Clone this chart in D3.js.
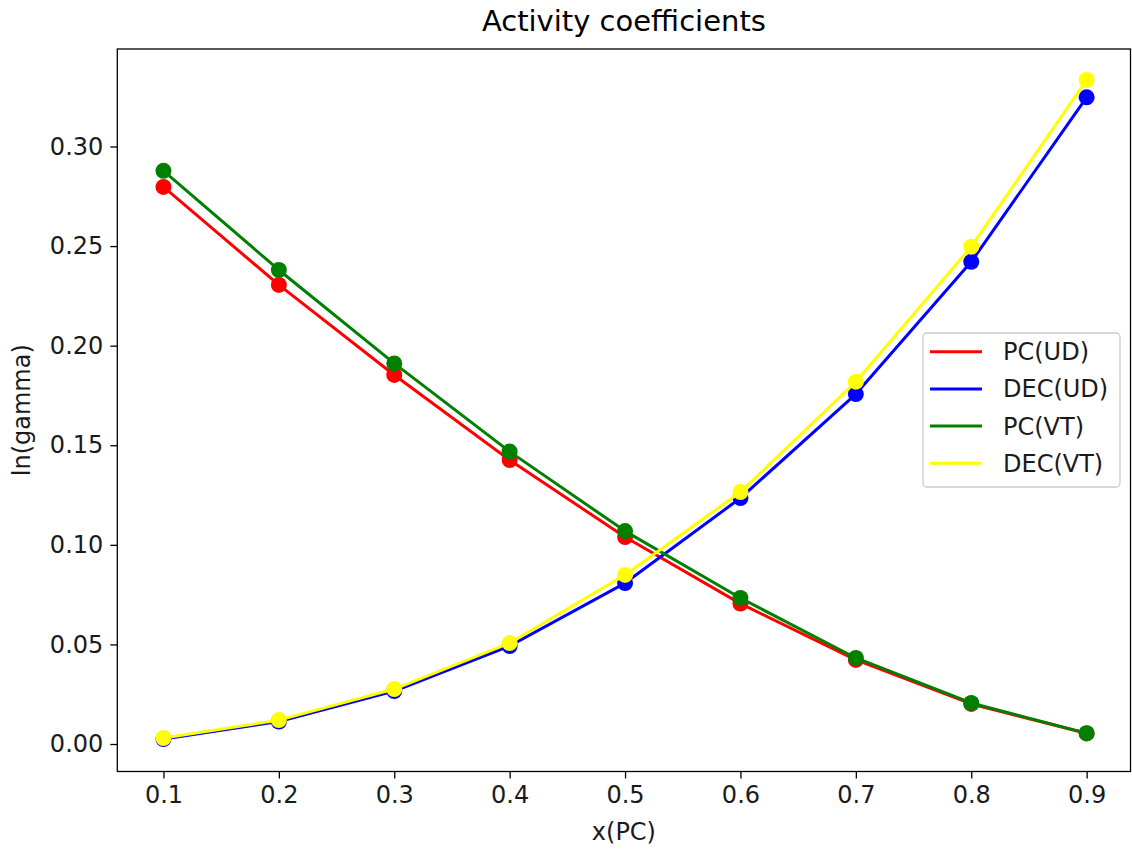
<!DOCTYPE html>
<html>
<head>
<meta charset="utf-8">
<script src="https://cdn.jsdelivr.net/npm/d3@7"></script>
<style>
  html, body { margin: 0; padding: 0; background: #fff; }
  svg { display: block; font-family: "DejaVu Sans", sans-serif; }
</style>
</head>
<body>
<svg id="chart" width="1132" height="852"></svg>
<script>
// Mole fraction of PC
const xPC = [0.1, 0.2, 0.3, 0.4, 0.5, 0.6, 0.7, 0.8, 0.9];

// ln(gamma) for each component and model
const pcUD  = [0.2797, 0.2305, 0.1853, 0.1426, 0.1039, 0.0705, 0.0422, 0.0201, 0.0053];
const decUD = [0.0025, 0.0113, 0.0266, 0.0492, 0.0808, 0.1235, 0.1757, 0.2421, 0.3247];
const pcVT  = [0.2878, 0.2380, 0.1911, 0.1468, 0.1069, 0.0733, 0.0432, 0.0206, 0.0054];
const decVT = [0.0030, 0.0120, 0.0276, 0.0507, 0.0849, 0.1265, 0.1819, 0.2497, 0.3334];

const seriesNames  = ["PC(UD)", "DEC(UD)", "PC(VT)", "DEC(VT)"];
const seriesValues = [pcUD, decUD, pcVT, decVT];
const seriesColors = ["#ff0000", "#0000ff", "#008000", "#ffff00"];

const xTicks = [0.1, 0.2, 0.3, 0.4, 0.5, 0.6, 0.7, 0.8, 0.9];
const yTicks = [0.00, 0.05, 0.10, 0.15, 0.20, 0.25, 0.30];

const titleText = "Activity coefficients";
const xLabel = "x(PC)";
const yLabel = "ln(gamma)";

// Plot frame
const frame = { left: 117.3, right: 1130.5, top: 49, bottom: 771.5 };

const svg = d3.select("#chart");

const x = d3.scaleLinear().domain([0.06, 0.94]).range([117.3, 1132.8]);
const y = d3.scaleLinear().domain([0, 0.30]).range([744, 146.5]);

const fontSize = 24;

// Axes
const xAxis = d3.axisBottom(x).tickValues(xTicks).tickFormat(d3.format(".1f"))
  .tickSize(7).tickPadding(7);
const yAxis = d3.axisLeft(y).tickValues(yTicks).tickFormat(d3.format(".2f"))
  .tickSize(7).tickPadding(7);

const gx = svg.append("g").attr("transform", `translate(0,${frame.bottom})`).call(xAxis);
const gy = svg.append("g").attr("transform", `translate(${frame.left},0)`).call(yAxis);
[gx, gy].forEach(g => {
  g.select(".domain").remove();
  g.selectAll(".tick line").attr("stroke", "#000").attr("stroke-width", 1.3);
  g.selectAll(".tick text").attr("fill", "#1a1a1a").style("font-size", fontSize + "px")
    .style("font-family", "'DejaVu Sans', sans-serif");
});

// Clip to plot area
svg.append("clipPath").attr("id", "plotclip").append("rect")
  .attr("x", frame.left).attr("y", frame.top)
  .attr("width", frame.right - frame.left).attr("height", frame.bottom - frame.top);

const plot = svg.append("g").attr("clip-path", "url(#plotclip)");

const line = d3.line().x((d, i) => x(xPC[i])).y(d => y(d));

seriesValues.forEach((vals, k) => {
  plot.append("g").selectAll("circle").data(vals).join("circle")
    .attr("cx", (d, i) => x(xPC[i]))
    .attr("cy", d => y(d))
    .attr("r", 8)
    .attr("fill", seriesColors[k]);
  plot.append("path").datum(vals)
    .attr("d", line)
    .attr("fill", "none")
    .attr("stroke", seriesColors[k])
    .attr("stroke-width", 3)
    .attr("stroke-linejoin", "round")
    .attr("stroke-linecap", "square");
});

// Frame
svg.append("rect")
  .attr("x", frame.left).attr("y", frame.top)
  .attr("width", frame.right - frame.left).attr("height", frame.bottom - frame.top)
  .attr("fill", "none").attr("stroke", "#000").attr("stroke-width", 1.3);

// Title and axis labels
svg.append("text").attr("x", (frame.left + frame.right) / 2).attr("y", 31)
  .attr("text-anchor", "middle").attr("fill", "#000")
  .style("font-size", "29px").text(titleText);

svg.append("text").attr("x", (frame.left + frame.right) / 2).attr("y", 840)
  .attr("text-anchor", "middle").attr("fill", "#1a1a1a")
  .style("font-size", fontSize + "px").text(xLabel);

svg.append("text")
  .attr("transform", `translate(30,${(frame.top + frame.bottom) / 2}) rotate(-90)`)
  .attr("text-anchor", "middle").attr("fill", "#1a1a1a")
  .style("font-size", fontSize + "px").text(yLabel);

// Legend
const legend = svg.append("g").attr("transform", "translate(923,333)");
legend.append("rect").attr("x", 0).attr("y", 0).attr("width", 197).attr("height", 154)
  .attr("rx", 4).attr("ry", 4)
  .attr("fill", "#fff").attr("fill-opacity", 0.8)
  .attr("stroke", "#cccccc").attr("stroke-width", 1.3);
seriesNames.forEach((name, k) => {
  const cy = 18.7 + k * 37.2;
  legend.append("line").attr("x1", 7).attr("x2", 59).attr("y1", cy).attr("y2", cy)
    .attr("stroke", seriesColors[k]).attr("stroke-width", 3);
  legend.append("text").attr("x", 80).attr("y", cy).attr("dy", "0.35em")
    .attr("fill", "#1a1a1a").style("font-size", fontSize + "px").text(name);
});
</script>
</body>
</html>
